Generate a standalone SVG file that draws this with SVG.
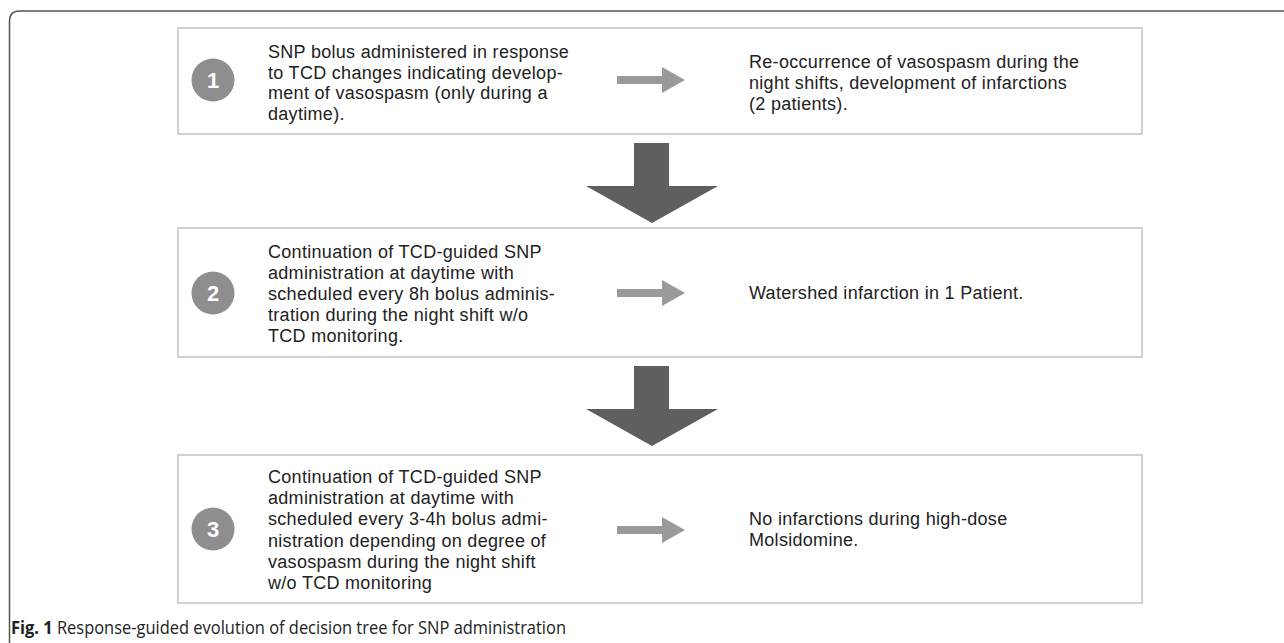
<svg xmlns="http://www.w3.org/2000/svg" width="1284" height="643" viewBox="0 0 1284 643">
<defs>
<style>
.box{fill:#fff;stroke:#c4c4c4;stroke-width:1.5}
.num{fill:#8e8e8e}
.numt{fill:#fff;font-family:"Liberation Sans",Arial,sans-serif;font-size:22px;font-weight:bold;text-anchor:middle}
.t{fill:#222;font-family:"Liberation Sans",Arial,sans-serif;font-size:18px;letter-spacing:0.3px}
.ra{fill:#9a9a9a}
.da{fill:#5f5f5f}
.cap{fill:#222;font-family:"Open Sans","Liberation Sans",sans-serif;font-size:17.5px}
</style>
</defs>
<rect width="1284" height="643" fill="#fff"/>
<path d="M9.5 643 V21 Q9.5 11 19.5 11 H1284" fill="none" stroke="#555" stroke-width="1.5"/>
<g id="node1">
<rect class="box" x="178" y="28" width="964" height="106"/>
<circle class="num" cx="213" cy="80" r="21.5"/>
<text class="numt" x="213" y="88">1</text>
<text class="t"><tspan x="268" y="58">SNP bolus administered in response</tspan><tspan x="268" y="78.5">to TCD changes indicating develop-</tspan><tspan x="268" y="99">ment of vasospasm (only during a</tspan><tspan x="268" y="119.5">daytime).</tspan></text>
<text class="t"><tspan x="749" y="68">Re-occurrence of vasospasm during the</tspan><tspan x="749" y="89">night shifts, development of infarctions</tspan><tspan x="749" y="110">(2 patients).</tspan></text>
</g>
<g id="node2">
<rect class="box" x="178" y="228" width="964" height="129"/>
<circle class="num" cx="213" cy="293" r="21.5"/>
<text class="numt" x="213" y="301">2</text>
<text class="t"><tspan x="268" y="258">Continuation of TCD-guided SNP</tspan><tspan x="268" y="279">administration at daytime with</tspan><tspan x="268" y="300">scheduled every 8h bolus adminis-</tspan><tspan x="268" y="321">tration during the night shift w/o</tspan><tspan x="268" y="342">TCD monitoring.</tspan></text>
<text class="t" x="749" y="299">Watershed infarction in 1 Patient.</text>
</g>
<g id="node3">
<rect class="box" x="178" y="455" width="964" height="148"/>
<circle class="num" cx="213" cy="529" r="21.5"/>
<text class="numt" x="213" y="537">3</text>
<text class="t"><tspan x="268" y="483">Continuation of TCD-guided SNP</tspan><tspan x="268" y="504.2">administration at daytime with</tspan><tspan x="268" y="525.4">scheduled every 3-4h bolus admi-</tspan><tspan x="268" y="546.6">nistration depending on degree of</tspan><tspan x="268" y="567.8">vasospasm during the night shift</tspan><tspan x="268" y="589">w/o TCD monitoring</tspan></text>
<text class="t"><tspan x="749" y="525">No infarctions during high-dose</tspan><tspan x="749" y="546">Molsidomine.</tspan></text>
</g>
<g id="connectors">
<polygon class="ra" points="617,76 662,76 662,67 685,80 662,93 662,84 617,84"/>
<polygon class="ra" points="617,289 662,289 662,280 685,293 662,306 662,297 617,297"/>
<polygon class="ra" points="617,526 662,526 662,517 685,530 662,543 662,534 617,534"/>
<polygon class="da" points="634,143 669,143 669,186 718,186 652,223 586,186 634,186"/>
<polygon class="da" points="634,366 669,366 669,409 718,409 652,446 586,409 634,409"/>
</g>
<text class="cap" x="11" y="634" textLength="555" lengthAdjust="spacingAndGlyphs"><tspan font-weight="bold">Fig. 1</tspan>  Response-guided evolution of decision tree for SNP administration</text>
</svg>
